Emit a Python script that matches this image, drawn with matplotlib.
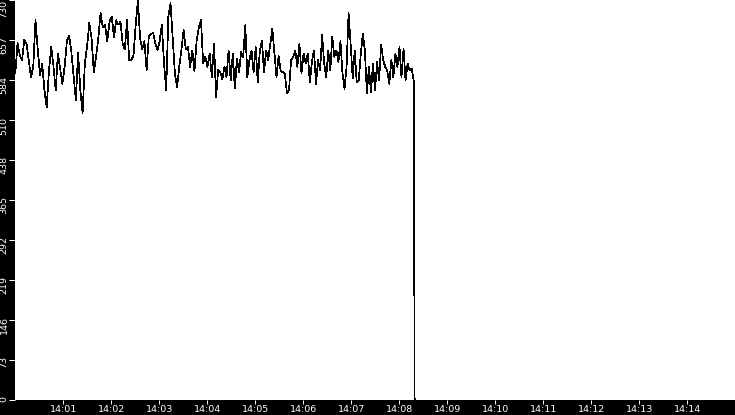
import numpy as np
import matplotlib
matplotlib.use("Agg")
import matplotlib.pyplot as plt
import matplotlib.transforms as mtransforms

# readings (values) in four stretches
seg1 = [596, 651, 629, 620, 657, 650, 620, 589, 608, 693, 640, 593, 613, 565, 534,
        600, 644, 610, 565, 632, 605, 577, 608, 655, 665, 635, 590, 547, 633, 565,
        524, 614, 645, 688, 660, 598, 626, 660, 706, 680, 685, 655, 690, 700]
seg2 = [662, 693, 685, 690, 650, 640, 693, 620, 620, 630, 685, 730, 660, 640, 655,
        602, 663, 668, 670, 650, 638, 655, 684, 615, 565, 700, 724, 660, 596, 570,
        608, 638, 675, 640, 645, 608, 638, 600, 655, 680, 693, 614, 626, 608, 632, 589]
seg3 = [650, 553, 602, 598, 585, 608, 589, 638, 583, 632, 568, 623, 598, 635, 626,
        684, 589, 620, 638, 598, 644, 580, 638, 655, 598, 638, 620, 650, 677, 632,
        589, 628, 601, 598, 596, 559, 565, 620, 626, 638, 608, 650, 596, 632, 614,
        632, 580, 617]
seg4 = [638, 577, 620, 601, 666, 614, 589, 638, 601, 663, 626, 638, 617, 655, 596,
        568, 608, 706, 650, 587, 638, 580, 583, 632, 669, 638, 559, 608, 562, 614,
        565, 617, 583, 648, 620, 608, 601, 577, 620, 589, 632, 608, 644, 589, 641,
        583, 614, 601, 605, 583]
# minutes after 14:00 where each stretch starts / the last one ends
seg_starts = [0.0, 2.056, 4.14, 6.223]
seg_end = 8.30
drop_time = 8.32  # value falls to zero here

y_ticks = [0, 73, 146, 219, 292, 365, 438, 510, 584, 657, 730]
x_ticks = list(range(1, 15))
x_labels = ["14:%02d" % m for m in x_ticks]

# build time axis for each stretch
segs = [seg1, seg2, seg3, seg4]
bounds = seg_starts + [seg_end]
t_all, v_all = [], []
for i, s in enumerate(segs):
    last = i == len(segs) - 1
    t = np.linspace(bounds[i], bounds[i + 1], len(s), endpoint=last)
    t_all.extend(t)
    v_all.extend(s)
t_all.append(drop_time)
v_all.append(0)

fig = plt.figure(figsize=(7.35, 4.15), dpi=100, facecolor="black")
ax = fig.add_axes([15.3 / 735, 15.5 / 415, 720 / 735, 399.5 / 415])
ax.set_facecolor("white")
ax.plot(t_all, v_all, color="black", lw=0.5, antialiased=False)

ax.set_xlim(0, 15)
ax.set_ylim(0, 730)
for sp in ax.spines.values():
    sp.set_visible(False)

ax.set_xticks(x_ticks)
ax.set_xticklabels(x_labels)
ax.set_yticks(y_ticks)
ax.set_yticklabels([str(v) for v in y_ticks], rotation=90, va="top")
ax.tick_params(axis="x", colors="white", length=3.2, width=0.72, pad=1, labelsize=6.8)
ax.tick_params(axis="y", colors="white", length=4.3, width=0.72, pad=0.5, labelsize=6.8)

# y labels sit a little above their ticks
for lab, v in zip(ax.get_yticklabels(), y_ticks):
    dy = 0 if v == 730 else 3.7 / 100
    lab.set_transform(lab.get_transform() + mtransforms.ScaledTranslation(0, dy, fig.dpi_scale_trans))

fig.savefig("out.png", dpi=100, facecolor="black")
